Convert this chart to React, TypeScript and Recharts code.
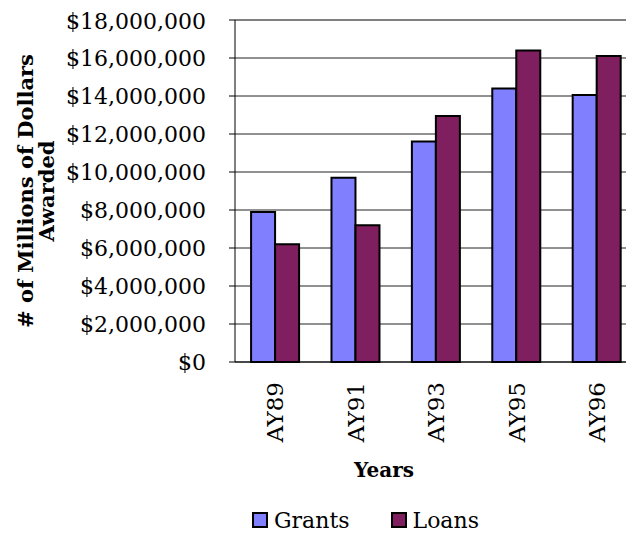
import React from 'react';
import {
  BarChart,
  Bar,
  XAxis,
  YAxis,
  CartesianGrid,
  Legend,
  ReferenceLine,
} from 'recharts';

const years = ['AY89', 'AY91', 'AY93', 'AY95', 'AY96'];
const grants = [7900000, 9700000, 11600000, 14400000, 14050000];
const loans = [6200000, 7200000, 12950000, 16400000, 16100000];
const yTicks = [0, 2000000, 4000000, 6000000, 8000000, 10000000, 12000000, 14000000, 16000000, 18000000];
// band edges for the tick marks between the categories
const edgeTicks = [0, 1, 2, 3, 4, 5];

const GRANTS = '#8080ff';
const LOANS = '#801f5f';
const FONT = '"DejaVu Serif", serif';

const data = years.map((year, i) => ({ year, grants: grants[i], loans: loans[i] }));

const money = (v: number) => '$' + v.toLocaleString('en-US');

const YearTick = (props: any) => {
  const { x, y, payload } = props;
  return (
    <text
      x={x}
      y={y}
      dy="0.36em"
      transform={`rotate(-90, ${x}, ${y})`}
      textAnchor="end"
      fontFamily={FONT}
      fontSize={23}
      fill="#000"
    >
      {payload.value}
    </text>
  );
};

const YTitle = (props: any) => {
  const { viewBox } = props;
  const cx = viewBox.x + 25;
  const cy = viewBox.y + viewBox.height / 2;
  return (
    <text
      x={cx}
      y={cy}
      transform={`rotate(-90, ${cx}, ${cy})`}
      textAnchor="middle"
      fontFamily={FONT}
      fontSize={21}
      fontWeight="bold"
      fill="#000"
    >
      <tspan x={cx} dy={0}># of Millions of Dollars</tspan>
      <tspan x={cx} dy={21}>Awarded</tspan>
    </text>
  );
};

const XTitle = (props: any) => {
  const { viewBox } = props;
  return (
    <text
      x={viewBox.x + 149}
      y={viewBox.y + 115}
      textAnchor="middle"
      fontFamily={FONT}
      fontSize={20}
      fontWeight="bold"
      fill="#000"
    >
      Years
    </text>
  );
};

const LegendBox = () => {
  const items = [
    { name: 'Grants', color: GRANTS },
    { name: 'Loans', color: LOANS },
  ];
  return (
    <div style={{ display: 'flex', alignItems: 'center', height: 30, fontFamily: FONT, fontSize: 22 }}>
      {items.map((it, i) => (
        <div key={it.name} style={{ display: 'flex', alignItems: 'center', marginRight: i === 0 ? 41 : 0 }}>
          <span
            style={{
              display: 'inline-block',
              width: 12,
              height: 12,
              background: it.color,
              border: '2px solid #000',
              marginRight: 6,
            }}
          />
          <span>{it.name}</span>
        </div>
      ))}
    </div>
  );
};

export default function App() {
  return (
    <div style={{ width: 626, height: 527, overflow: 'hidden', position: 'relative' }}>
      <BarChart
        width={629}
        height={527}
        data={data}
        margin={{ top: 12, right: 0, bottom: 0, left: 0 }}
        barCategoryGap="20%"
        barGap={0}
      >
        <CartesianGrid vertical={false} stroke="#222" xAxisId="cat" />
        <XAxis
          xAxisId="edges"
          type="number"
          domain={[0, 5]}
          ticks={edgeTicks}
          allowDataOverflow
          height={0}
          axisLine={false}
          tick={false}
          tickSize={7}
          tickLine={{ stroke: '#000' }}
        />
        <XAxis
          xAxisId="cat"
          dataKey="year"
          height={143}
          axisLine={{ stroke: '#000' }}
          tickLine={false}
          tickSize={7}
          tickMargin={13}
          tick={<YearTick />}
          interval={0}
          label={<XTitle />}
        />
        <YAxis
          width={227}
          domain={[0, 18000000]}
          ticks={yTicks}
          tickFormatter={money}
          axisLine={{ stroke: '#000' }}
          tickLine={{ stroke: '#000' }}
          tickSize={6}
          tickMargin={23}
          tick={{ fill: '#000', fontFamily: FONT, fontSize: 22 }}
          label={<YTitle />}
        />
        <ReferenceLine xAxisId="cat" y={18000000} stroke="#808080" strokeWidth={2} />
        <Legend
          verticalAlign="bottom"
          content={<LegendBox />}
          wrapperStyle={{ left: 244, width: 260, height: 30 }}
        />
        <Bar xAxisId="cat" dataKey="grants" name="Grants" fill={GRANTS} stroke="#000" strokeWidth={2} isAnimationActive={false} />
        <Bar xAxisId="cat" dataKey="loans" name="Loans" fill={LOANS} stroke="#000" strokeWidth={2} isAnimationActive={false} />
      </BarChart>
    </div>
  );
}
